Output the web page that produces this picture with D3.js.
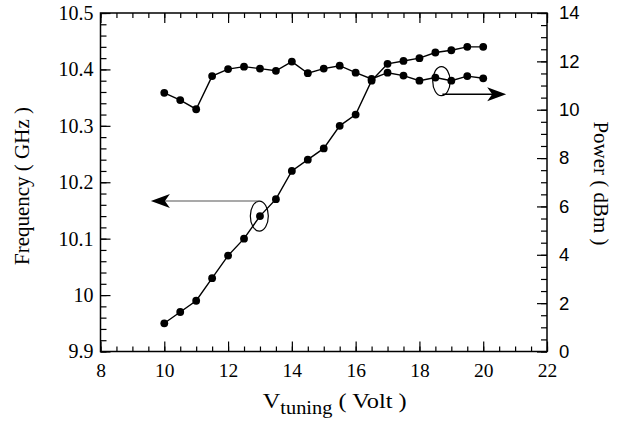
<!DOCTYPE html>
<html>
<head>
<meta charset="utf-8">
<script src="https://cdn.jsdelivr.net/npm/d3@7"></script>
<style>
  html, body { margin: 0; padding: 0; background: #fff; }
  svg { display: block; }
</style>
</head>
<body>
<svg id="chart" width="625" height="424"></svg>
<script>
// ---- data ----
const voltage = [10, 10.5, 11, 11.5, 12, 12.5, 13, 13.5, 14, 14.5, 15, 15.5, 16, 16.5, 17, 17.5, 18, 18.5, 19, 19.5, 20];
const frequency = [9.95, 9.97, 9.99, 10.03, 10.07, 10.10, 10.14, 10.17, 10.22, 10.24, 10.26, 10.30, 10.32, 10.38, 10.41, 10.415, 10.42, 10.43, 10.434, 10.44, 10.44];
const power = [10.70, 10.40, 10.02, 11.39, 11.68, 11.78, 11.70, 11.61, 11.99, 11.51, 11.70, 11.82, 11.53, 11.27, 11.53, 11.41, 11.20, 11.33, 11.20, 11.39, 11.30];

const xTicks = [8, 10, 12, 14, 16, 18, 20, 22];
const freqTicks = [9.9, 10, 10.1, 10.2, 10.3, 10.4, 10.5];
const powerTicks = [0, 2, 4, 6, 8, 10, 12, 14];

const xTitleMain = "V";
const xTitleSub = "tuning";
const xTitleRest = " ( Volt )";
const yLeftTitle = "Frequency ( GHz )";
const yRightTitle = "Power ( dBm )";

// annotations in data units
const freqMarker = { x: 12.98, y: 10.14 };          // ellipse on frequency curve (left axis units)
const freqArrow = { x1: 12.98, x2: 9.58, y: 10.1667 };
const powerMarker = { x: 18.69, y: 11.18 };         // ellipse on power curve (right axis units)
const powerArrow = { x1: 18.72, x2: 20.72, y: 10.64 };

// ---- layout ----
const L = 100.5, R = 547, T = 13, B = 351.5;
const serif = "'Liberation Serif', 'Times New Roman', serif";
const sans = "'Liberation Sans', Arial, sans-serif";

const svg = d3.select("#chart");
const x = d3.scaleLinear().domain([8, 22]).range([L, R]);
const yF = d3.scaleLinear().domain([9.9, 10.5]).range([B, T]);
const yP = d3.scaleLinear().domain([0, 14]).range([B, T]);

const xMinor = d3.range(0, 29).map(i => 8 + i * 0.5);
const fMinor = d3.range(0, 31).map(i => +(9.9 + i * 0.02).toFixed(2));
const pMinor = d3.range(0, 29).map(i => i * 0.5);

function styleAxis(g) {
  g.select(".domain").remove();
  g.selectAll(".tick line").attr("stroke", "#000").attr("stroke-width", 1.2);
}

// minor ticks
svg.append("g").attr("transform", `translate(0,${B})`)
  .call(d3.axisBottom(x).tickValues(xMinor).tickSize(-5).tickFormat("")).call(styleAxis);
svg.append("g").attr("transform", `translate(0,${T})`)
  .call(d3.axisTop(x).tickValues(xMinor).tickSize(-5).tickFormat("")).call(styleAxis);
svg.append("g").attr("transform", `translate(${L},0)`)
  .call(d3.axisLeft(yF).tickValues(fMinor).tickSize(-6).tickFormat("")).call(styleAxis);
svg.append("g").attr("transform", `translate(${R},0)`)
  .call(d3.axisRight(yP).tickValues(pMinor).tickSize(-6).tickFormat("")).call(styleAxis);

// major ticks + labels
const gxB = svg.append("g").attr("transform", `translate(0,${B})`)
  .call(d3.axisBottom(x).tickValues(xTicks).tickSize(-10).tickPadding(12).tickFormat(d3.format("d")))
  .call(styleAxis);
gxB.selectAll("text").attr("font-family", serif).attr("font-size", 19.5).attr("fill", "#000");

svg.append("g").attr("transform", `translate(0,${T})`)
  .call(d3.axisTop(x).tickValues(xTicks).tickSize(-10).tickFormat("")).call(styleAxis);

const gyL = svg.append("g").attr("transform", `translate(${L},0)`)
  .call(d3.axisLeft(yF).tickValues(freqTicks).tickSize(-10).tickPadding(7).tickFormat(d => String(+d.toFixed(1))))
  .call(styleAxis);
gyL.selectAll("text").attr("font-family", serif).attr("font-size", 20).attr("fill", "#000");

const gyR = svg.append("g").attr("transform", `translate(${R},0)`)
  .call(d3.axisRight(yP).tickValues(powerTicks).tickSize(-10).tickPadding(12).tickFormat(d3.format("d")))
  .call(styleAxis);
gyR.selectAll("text").attr("font-family", sans).attr("font-size", 18.5).attr("fill", "#000");

// frame
svg.append("rect").attr("x", L).attr("y", T).attr("width", R - L).attr("height", B - T)
  .attr("fill", "none").attr("stroke", "#000").attr("stroke-width", 1.5);

// series
const freqData = voltage.map((v, i) => [v, frequency[i]]);
const powData = voltage.map((v, i) => [v, power[i]]);

svg.append("path").datum(freqData)
  .attr("d", d3.line().x(d => x(d[0])).y(d => yF(d[1])))
  .attr("fill", "none").attr("stroke", "#000").attr("stroke-width", 1.4);
svg.append("path").datum(powData)
  .attr("d", d3.line().x(d => x(d[0])).y(d => yP(d[1])))
  .attr("fill", "none").attr("stroke", "#000").attr("stroke-width", 1.4);

svg.append("g").selectAll("circle").data(freqData).join("circle")
  .attr("cx", d => x(d[0])).attr("cy", d => yF(d[1])).attr("r", 3.9).attr("fill", "#000");
svg.append("g").selectAll("circle").data(powData).join("circle")
  .attr("cx", d => x(d[0])).attr("cy", d => yP(d[1])).attr("r", 3.9).attr("fill", "#000");

// annotations
function arrowHead(tipX, y, dir) {
  // dir = -1 pointing left, +1 pointing right
  const back = tipX - dir * 19, notch = tipX - dir * 14;
  return `M${tipX},${y} L${back},${y - 7} L${notch},${y} L${back},${y + 7} Z`;
}

svg.append("ellipse")
  .attr("cx", x(freqMarker.x)).attr("cy", yF(freqMarker.y)).attr("rx", 9).attr("ry", 15)
  .attr("fill", "none").attr("stroke", "#000").attr("stroke-width", 1.2);
svg.append("line")
  .attr("x1", x(freqArrow.x1)).attr("x2", x(freqArrow.x2) + 12)
  .attr("y1", yF(freqArrow.y)).attr("y2", yF(freqArrow.y))
  .attr("stroke", "#555").attr("stroke-width", 1.1);
svg.append("path").attr("d", arrowHead(x(freqArrow.x2), yF(freqArrow.y), -1)).attr("fill", "#000");

svg.append("ellipse")
  .attr("cx", x(powerMarker.x)).attr("cy", yP(powerMarker.y)).attr("rx", 8.7).attr("ry", 14.5)
  .attr("fill", "none").attr("stroke", "#000").attr("stroke-width", 1.2);
svg.append("line")
  .attr("x1", x(powerArrow.x1)).attr("x2", x(powerArrow.x2) - 12)
  .attr("y1", yP(powerArrow.y)).attr("y2", yP(powerArrow.y))
  .attr("stroke", "#000").attr("stroke-width", 1.5);
svg.append("path").attr("d", arrowHead(x(powerArrow.x2), yP(powerArrow.y), 1)).attr("fill", "#000");

// titles
const xt = svg.append("text").attr("x", 334.7).attr("y", 408)
  .attr("text-anchor", "middle").attr("font-family", serif).attr("font-size", 21.5).attr("fill", "#000")
  .attr("textLength", 144).attr("lengthAdjust", "spacingAndGlyphs");
xt.append("tspan").text(xTitleMain);
xt.append("tspan").attr("font-size", 18).attr("dy", 6).text(xTitleSub);
xt.append("tspan").attr("dy", -6).text(xTitleRest);

svg.append("text").attr("transform", "translate(29,186) rotate(-90)")
  .attr("text-anchor", "middle").attr("font-family", serif).attr("font-size", 21).attr("fill", "#000")
  .text(yLeftTitle);

svg.append("text").attr("transform", "translate(594,183.5) rotate(90)")
  .attr("text-anchor", "middle").attr("font-family", serif).attr("font-size", 21).attr("fill", "#000")
  .text(yRightTitle);
</script>
</body>
</html>
